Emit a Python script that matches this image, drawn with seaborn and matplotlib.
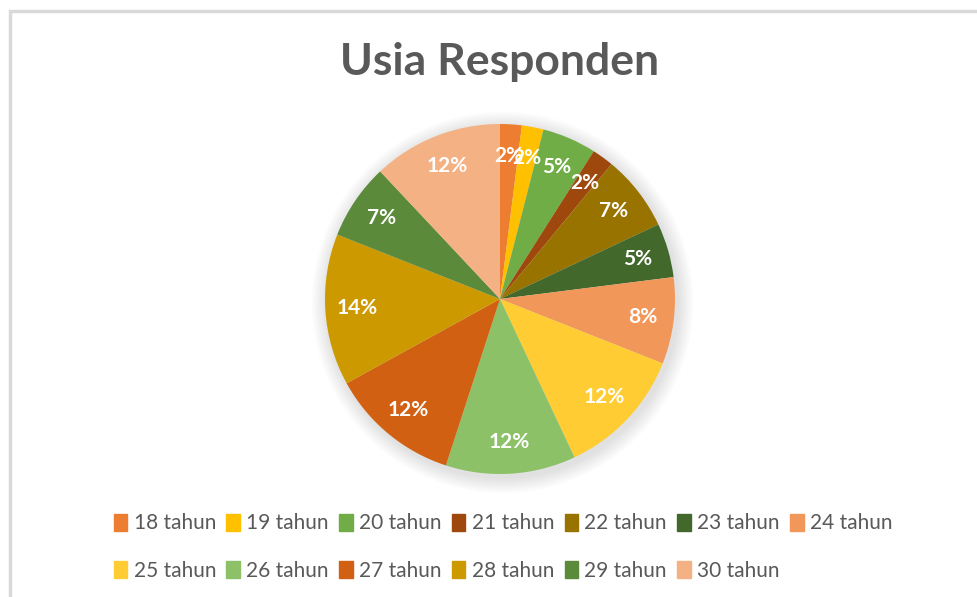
import numpy as np
import matplotlib
matplotlib.use("Agg")
import matplotlib.pyplot as plt
import matplotlib.patches as mpatches
import seaborn as sns

# data
umur = ["18 tahun", "19 tahun", "20 tahun", "21 tahun", "22 tahun", "23 tahun", "24 tahun",
        "25 tahun", "26 tahun", "27 tahun", "28 tahun", "29 tahun", "30 tahun"]
persen = [2, 2, 5, 2, 7, 5, 8, 12, 12, 12, 14, 7, 12]
warna = ["#ED7D31", "#FFC000", "#70AD47", "#9E480E", "#997300", "#43682B", "#F1975A",
         "#FFCD33", "#8CC168", "#D26012", "#CC9A00", "#5A8A3A", "#F4B183"]

sns.set_theme(style="white")
plt.rcParams['font.family'] = ['Lato', 'DejaVu Sans']
plt.rcParams['hatch.color'] = '#e6e6e6'
plt.rcParams['hatch.linewidth'] = 1.8

W, H = 977, 597
fig = plt.figure(figsize=(W / 100, H / 100), dpi=100)
fig.patch.set_facecolor('white')

# striped background + border
bg = mpatches.Rectangle((10 / W, 0), 1, 1 - 11 / H, transform=fig.transFigure,
                        facecolor='white', lw=0, hatch='\\' * 14, zorder=-3)
fig.patches.append(bg)
border = mpatches.Rectangle((10 / W, -0.01), 1, 1 - 11 / H + 0.01, transform=fig.transFigure,
                            facecolor='none', edgecolor='#d9d9d9', lw=2.5, zorder=-2)
fig.patches.append(border)

# legend area background
leg_bg = mpatches.Rectangle((103 / W, 1 - 592 / H), 797 / W, 90 / H, transform=fig.transFigure,
                            facecolor='white', edgecolor='none', alpha=0.7, zorder=-1)
fig.patches.append(leg_bg)

cx, cy, r = 500, 299, 175
ax = fig.add_axes([(cx - r) / W, 1 - (cy + r) / H, 2 * r / W, 2 * r / H])
ax.set_facecolor('none')

# soft shadow
for i in range(10):
    ax.add_patch(mpatches.Circle((0.015, -0.02), 1.0 + 0.009 * (10 - i),
                                 color='#808080', alpha=0.025, lw=0, zorder=0, clip_on=False))

wedges, teks, pct = ax.pie(persen, colors=warna, startangle=90, counterclock=False,
                           autopct='%d%%', pctdistance=0.82,
                           wedgeprops=dict(linewidth=0, zorder=2),
                           textprops=dict(color='white', fontsize=15, fontweight='bold'))
for t in pct:
    t.set_zorder(3)
ax.set_xlim(-1, 1)
ax.set_ylim(-1, 1)
ax.axis('off')

fig.text(500 / W, 1 - 62 / H, "Usia Responden", ha='center', va='center',
         fontsize=32, fontweight='bold', color='#595959')

# legend in row order (7 + 6)
urut = []
for c in range(7):
    urut.append(c)
    if c + 7 < len(umur):
        urut.append(c + 7)
handles = [mpatches.Patch(color=warna[i]) for i in urut]
labels = [umur[i] for i in urut]
leg = fig.legend(handles, labels, ncol=7, loc='center', bbox_to_anchor=(503 / W, 1 - 547 / H),
                 frameon=False, fontsize=15, handlelength=0.65, handleheight=0.85,
                 handletextpad=0.3, columnspacing=0.5, labelspacing=1.3)
for t in leg.get_texts():
    t.set_color('#595959')

fig.savefig("out.png", dpi=100, facecolor=fig.get_facecolor())
